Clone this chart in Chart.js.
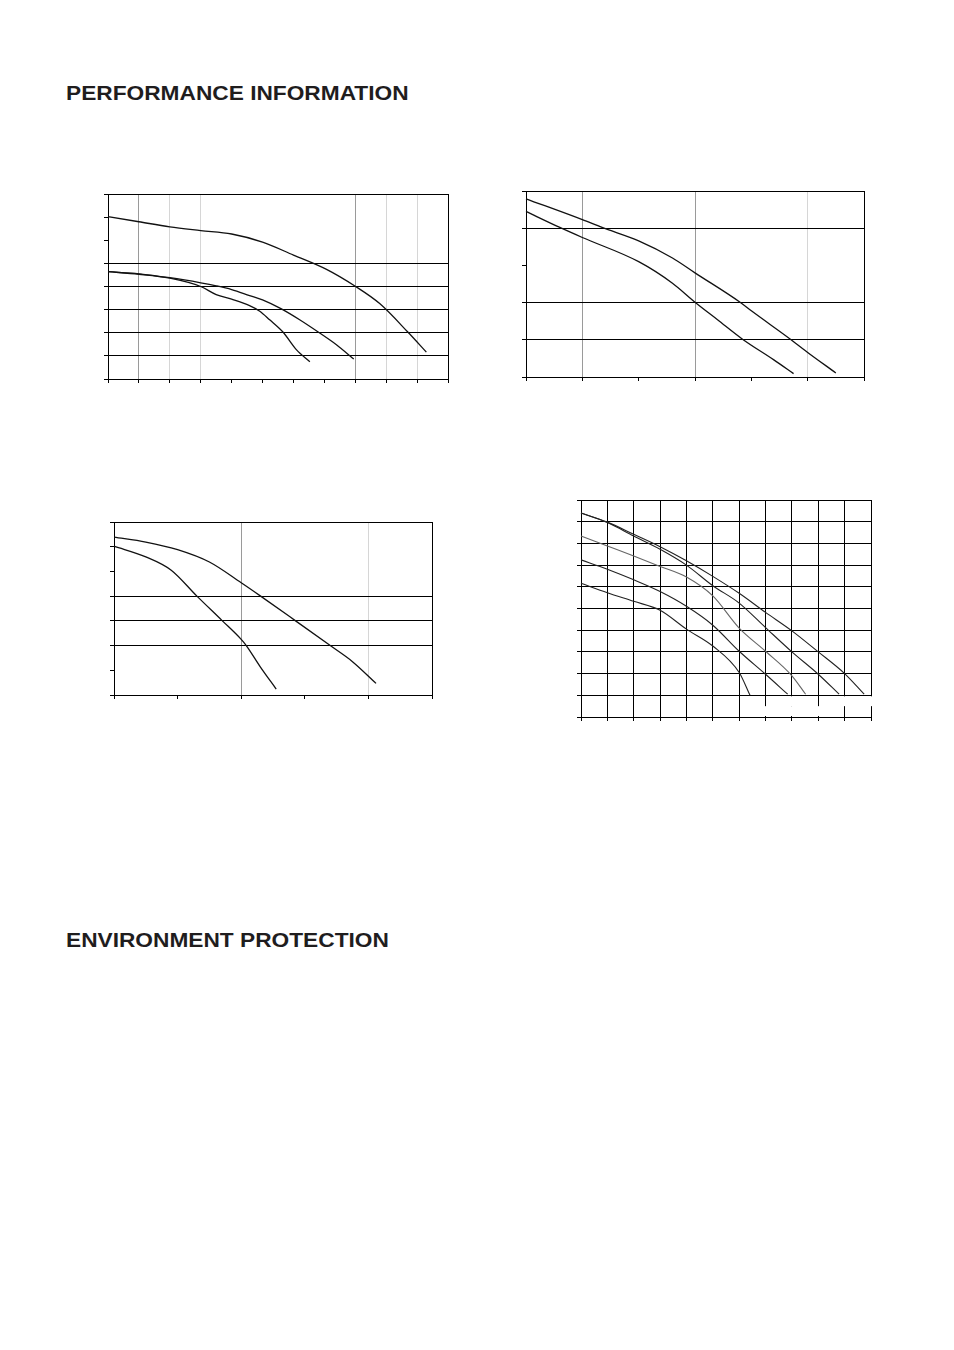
<!DOCTYPE html>
<html>
<head>
<meta charset="utf-8">
<script src="https://cdn.jsdelivr.net/npm/chart.js@4.4.1/dist/chart.umd.min.js"></script>
<style>
  html, body { margin: 0; padding: 0; background: #fff; }
  body { width: 954px; height: 1350px; position: relative; overflow: hidden; }
  .h { position: absolute; left: 66px; font-family: "Liberation Sans", Arial, sans-serif; font-weight: bold; font-size: 20px; line-height: 20px; color: #1f1d1e; white-space: nowrap; transform: scaleX(1.135); transform-origin: 0 0; }
  canvas { position: absolute; }
</style>
</head>
<body>
<div class="h" style="top:83px">PERFORMANCE INFORMATION</div>
<div class="h" style="top:930px">ENVIRONMENT PROTECTION</div>

<canvas id="c1" width="350" height="195" style="left:101px;top:191px"></canvas>
<canvas id="c2" width="348" height="196" style="left:519px;top:188px"></canvas>
<canvas id="c3" width="328" height="183" style="left:107px;top:519px"></canvas>
<canvas id="c4" width="300" height="227" style="left:574px;top:497px"></canvas>

<script>
// ---------- DATA ----------
// Chart 1 (top left): x 0..11, y 0..8
const c1xA = [0, 1, 2, 3, 4, 5, 6, 7.07, 8, 8.79, 9.7, 10.3];
const c1yA = [7.02, 6.8, 6.58, 6.42, 6.27, 5.92, 5.36, 4.74, 4.01, 3.26, 2.03, 1.16];
const c1xB = [0, 1, 2, 3, 3.5, 4, 4.58, 5, 5.61, 6.2, 6.8, 7.39, 7.95];
const c1yB = [4.64, 4.55, 4.38, 4.16, 4.03, 3.87, 3.61, 3.42, 3.03, 2.56, 2.03, 1.48, 0.86];
const c1xC = [0, 1, 2, 3, 3.5, 4, 4.58, 4.91, 5.23, 5.66, 6.1, 6.53];
const c1yC = [4.64, 4.53, 4.36, 4.0, 3.65, 3.45, 3.17, 2.93, 2.56, 2.03, 1.26, 0.75];

// Chart 2 (top right): x 0..6, y 0..5
const c2xA = [0, 1, 1.35, 2, 2.6, 3, 3.8, 4, 4.7, 5, 5.5];
const c2yA = [4.79, 4.23, 4.02, 3.66, 3.2, 2.8, 2.01, 1.78, 1.01, 0.66, 0.11];
const c2xB = [0, 0.6, 1, 2, 2.6, 3, 3.4, 3.85, 4.4, 4.75];
const c2yB = [4.45, 4.02, 3.75, 3.10, 2.52, 2.01, 1.54, 1.01, 0.46, 0.09];

// Chart 3 (bottom left): x 0..5, y 0..7
const c3xA = [0, 0.5, 1, 1.5, 2, 2.3, 2.85, 3.4, 3.75, 4.12];
const c3yA = [6.39, 6.19, 5.88, 5.38, 4.54, 4.01, 3.01, 2.0, 1.35, 0.47];
const c3xB = [0, 0.5, 0.9, 1.3, 1.7, 2, 2.08, 2.3, 2.55];
const c3yB = [6.02, 5.59, 5.05, 4.01, 3.01, 2.25, 2.0, 1.14, 0.24];

// Chart 4 (bottom right): x 0..11, y 0..10
const c4x1 = [0, 1, 2, 3, 4, 5, 6, 7, 8, 9, 10, 10.74];
const c4y1 = [9.4, 8.98, 8.42, 7.85, 7.2, 6.48, 5.7, 4.82, 3.97, 3.0, 2.0, 1.05];
const c4x2 = [0, 1, 2, 3, 4, 5, 6, 7, 8, 9, 9.79];
const c4y2 = [9.4, 8.96, 8.34, 7.73, 7.0, 6.05, 5.25, 4.12, 3.0, 1.97, 1.05];
const c4x3 = [0, 1, 2, 3, 4, 5, 6, 7, 8, 8.52];
const c4y3 = [8.34, 7.88, 7.42, 6.94, 6.45, 5.58, 4.1, 3.03, 1.9, 1.05];
const c4x4 = [0, 1, 2, 3, 4, 5, 6, 7, 7.84];
const c4y4 = [7.24, 6.81, 6.32, 5.78, 5.1, 4.23, 3.03, 1.97, 1.05];
const c4x5 = [0, 1, 2, 3, 4, 5, 6, 6.41];
const c4y5 = [6.16, 5.73, 5.33, 4.92, 4.05, 3.27, 2.05, 1.0];

// ---------- STYLES ----------
const DARK = '#9a9a9a', LIGHT = '#d6d6d6', BLACK = '#000', NONE = 'rgba(0,0,0,0)';
const c1VGrid = {0: BLACK, 1: DARK, 2: LIGHT, 3: LIGHT, 8: DARK, 9: LIGHT, 10: LIGHT, 11: BLACK};
const c1HGrid = {0: BLACK, 1: BLACK, 2: BLACK, 3: BLACK, 4: BLACK, 5: BLACK, 8: BLACK};
const c2VGrid = {0: BLACK, 1: DARK, 3: DARK, 5: LIGHT, 6: BLACK};
const c2HGrid = {0: BLACK, 1: BLACK, 2: BLACK, 4: BLACK, 5: BLACK};
const c3VGrid = {0: BLACK, 2: DARK, 4: LIGHT, 5: BLACK};
const c3HGrid = {0: BLACK, 2: BLACK, 3: BLACK, 4: BLACK, 7: BLACK};

function pts(xs, ys) { return xs.map((x, i) => ({x: x, y: ys[i]})); }

function ds(xs, ys, color, width) {
  return {
    data: pts(xs, ys), borderColor: color, borderWidth: width,
    pointRadius: 0, fill: false, cubicInterpolationMode: 'monotone', clip: false
  };
}

function axis(max, gridMap) {
  return {
    type: 'linear', min: 0, max: max,
    ticks: { display: false, stepSize: 1 },
    grid: {
      color: ctx => (gridMap ? (gridMap[ctx.tick && ctx.tick.value] || NONE) : BLACK),
      tickColor: BLACK, tickLength: 4, lineWidth: 1, drawTicks: true
    },
    border: { display: true, color: BLACK, width: 1 }
  };
}

function makeChart(id, datasets, xMax, yMax, vGrid, hGrid, plugins) {
  return new Chart(document.getElementById(id), {
    type: 'line',
    data: { datasets: datasets },
    options: {
      responsive: false, animation: false, devicePixelRatio: 1,
      layout: { padding: 3 },
      plugins: { legend: { display: false }, tooltip: { enabled: false } },
      scales: { x: axis(xMax, vGrid), y: axis(yMax, hGrid) }
    },
    plugins: plugins || []
  });
}

makeChart('c1', [
  ds(c1xA, c1yA, '#111', 1.3),
  ds(c1xB, c1yB, '#111', 1.3),
  ds(c1xC, c1yC, '#111', 1.3)
], 11, 8, c1VGrid, c1HGrid);

makeChart('c2', [
  ds(c2xA, c2yA, '#111', 1.3),
  ds(c2xB, c2yB, '#111', 1.3)
], 6, 5, c2VGrid, c2HGrid);

makeChart('c3', [
  ds(c3xA, c3yA, '#111', 1.3),
  ds(c3xB, c3yB, '#111', 1.3)
], 5, 7, c3VGrid, c3HGrid);

// blank patch in bottom row of chart 4 (partial grid lines)
const patchPlugin = {
  id: 'patch',
  afterDraw(chart) {
    const c = chart.ctx, xs = chart.scales.x, ys = chart.scales.y;
    const y1 = ys.getPixelForValue(1), y0 = ys.getPixelForValue(0), ym = (y0 + y1) / 2;
    c.save();
    c.fillStyle = '#fff';
    const px = v => xs.getPixelForValue(v);
    c.fillRect(px(7.5), y1 + 1, px(8.5) - px(7.5), ym - y1 - 1);
    c.fillRect(px(9.5), y1 + 1, px(11) + 3 - px(9.5), ym - y1 - 1);
    c.fillRect(px(6.5), ym, px(9.5) - px(6.5), y0 - 1 - ym);
    c.restore();
  }
};

makeChart('c4', [
  ds(c4x1, c4y1, '#222', 1.1),
  ds(c4x2, c4y2, '#222', 1.1),
  ds(c4x3, c4y3, '#666', 1.1),
  ds(c4x4, c4y4, '#222', 1.1),
  ds(c4x5, c4y5, '#222', 1.1)
], 11, 10, null, null, [patchPlugin]);
</script>
</body>
</html>
